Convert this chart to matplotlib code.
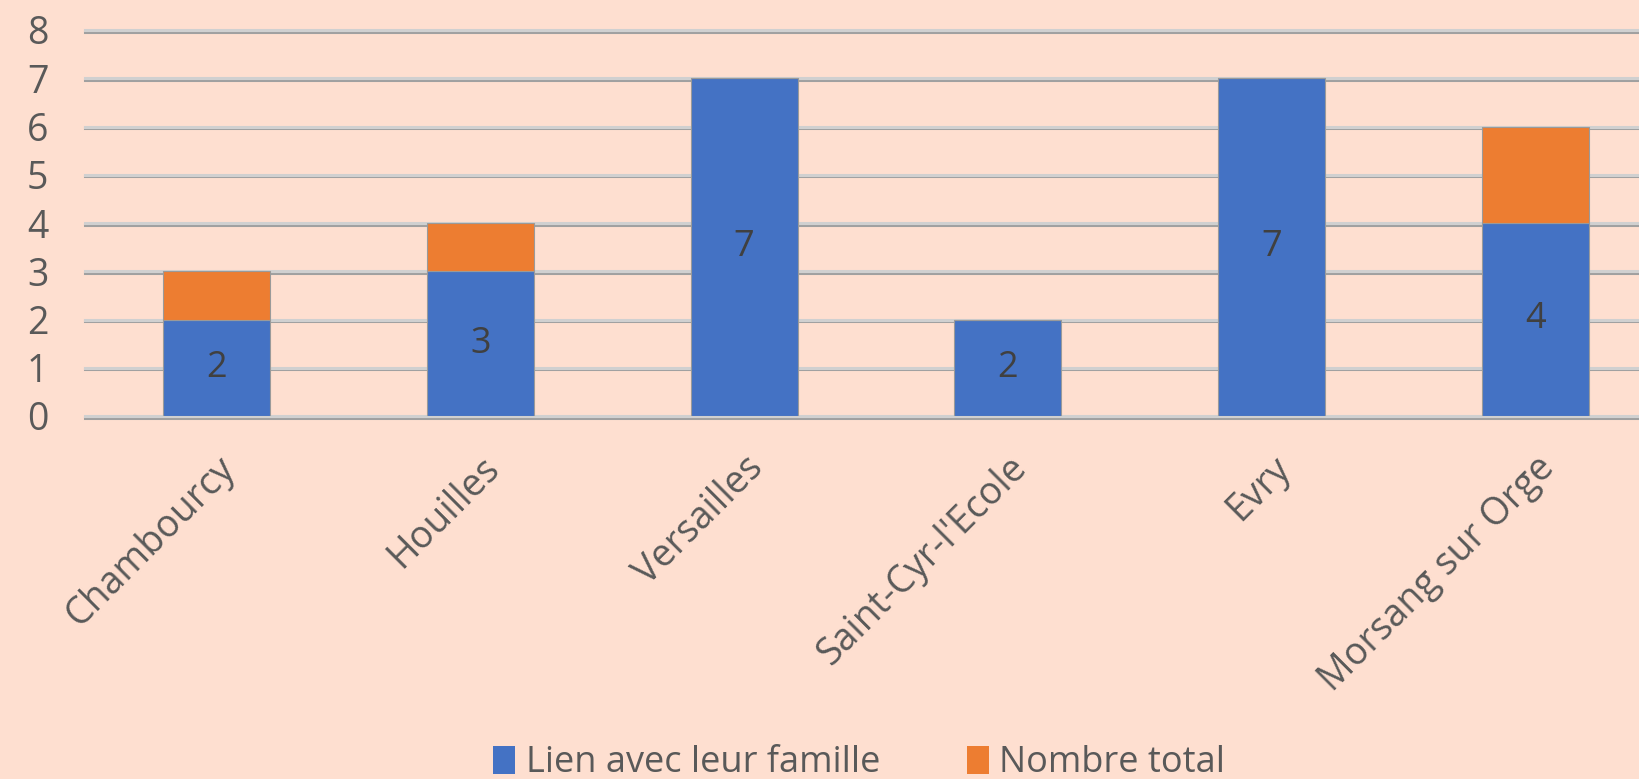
import matplotlib
matplotlib.use("Agg")
import matplotlib.pyplot as plt
import matplotlib.patheffects as pe
from matplotlib.patches import Patch
import numpy as np

# données
villes = ["Chambourcy", "Houilles", "Versailles", "Saint-Cyr-l'Ecole", "Evry", "Morsang sur Orge"]
lien_famille = [2, 3, 7, 2, 7, 4]
nombre_total = [1, 1, 0, 0, 0, 2]
yticks = [0, 1, 2, 3, 4, 5, 6, 7, 8]

bg = "#FEDFD0"
bleu = "#4472C4"
orange = "#ED7D31"
gris = "#595959"

plt.rcParams['font.family'] = ['Open Sans', 'DejaVu Sans']

fig = plt.figure(figsize=(16.4, 7.79), dpi=100, facecolor=bg)
ax = fig.add_axes([85 / 1640, 363 / 779, 1582 / 1640, 386 / 779])
ax.set_facecolor(bg)

x = np.arange(len(villes))
ax.bar(x, lien_famille, width=0.405, color=bleu, edgecolor="#9A9A9A", linewidth=0.8, zorder=3)
ax.bar(x, nombre_total, width=0.405, bottom=lien_famille, color=orange, edgecolor="#9A9A9A",
       linewidth=0.8, zorder=3)

# étiquettes dans les barres bleues
for xi, v in zip(x, lien_famille):
    ax.text(xi, v / 2, str(v), ha="center", va="center", fontsize=26, color="#404040", zorder=4)

# lignes de grille avec ombre
for t in yticks:
    ax.axhline(t, color="#D0D0D0", linewidth=2.2, zorder=1, clip_on=False,
               path_effects=[pe.SimpleLineShadow(offset=(0, -1.2), shadow_color="#A0A0A0", alpha=1),
                             pe.Normal()])

ax.set_xlim(-0.5, len(villes) - 0.5)
ax.set_ylim(0, 8)
ax.set_yticks(yticks)
ax.set_xticks(x)
ax.set_xticklabels(villes, rotation=45, ha="right", va="top", rotation_mode="anchor",
                   fontsize=27, color=gris)
ax.tick_params(axis="y", labelsize=27, labelcolor=gris, length=0, pad=34)
ax.tick_params(axis="x", length=0, pad=24)
for lab in ax.get_yticklabels():
    lab.set_horizontalalignment("center")
for s in ax.spines.values():
    s.set_visible(False)

handles = [Patch(facecolor=bleu, label="Lien avec leur famille"),
           Patch(facecolor=orange, label="Nombre total")]
fig.legend(handles=handles, loc="center", bbox_to_anchor=(0.524, 0.02), ncol=2, frameon=False,
           fontsize=26, labelcolor=gris, handlelength=0.6, handleheight=0.8, handletextpad=0.3,
           columnspacing=2.4)

fig.savefig("out.png", dpi=100, facecolor=bg)
